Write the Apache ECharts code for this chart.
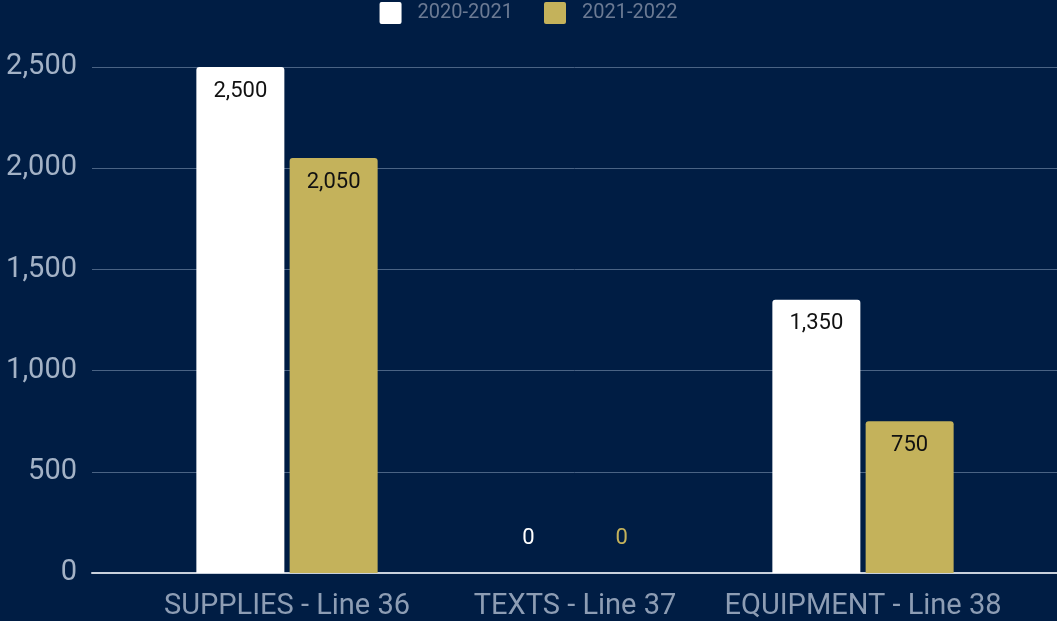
<!DOCTYPE html>
<html><head><meta charset="utf-8">
<script src="https://cdn.jsdelivr.net/npm/echarts@6/dist/echarts.min.js"></script>
<style>html,body{margin:0;padding:0;background:#001d44;}#c{width:1057px;height:621px;}</style>
</head><body><div id="c"></div>
<script>
const categories = ['SUPPLIES - Line 36', 'TEXTS - Line 37', 'EQUIPMENT - Line 38'];
const seriesNames = ['2020-2021', '2021-2022'];
const values2021 = [2500, 0, 1350];
const values2022 = [2050, 0, 750];
const yTicks = [0, 500, 1000, 1500, 2000, 2500];

const colors = ['#ffffff', '#c4b25b'];
const fmt = v => v.toLocaleString('en-US');

function mkData(vals, idx) {
  return vals.map(v => v === 0 ? {
    value: v,
    label: { position: 'top', distance: 24, color: colors[idx] }
  } : v);
}

const chart = echarts.init(document.getElementById('c'));
chart.setOption({
  backgroundColor: '#001d44',
  animation: false,
  textStyle: { fontFamily: 'Roboto' },
  legend: {
    top: 2, left: 'center', padding: 0,
    itemWidth: 22, itemHeight: 22, itemGap: 31,
    icon: 'path://M2,0 L20,0 Q22,0 22,2 L22,20 Q22,22 20,22 L2,22 Q0,22 0,20 L0,2 Q0,0 2,0 Z',
    textStyle: { color: '#6b7a93', fontSize: 20, fontFamily: 'Roboto', padding: [0, 0, 0, 11] },
    data: seriesNames
  },
  grid: [
    { left: 92, right: 0, top: 67, bottom: 48 },
    { left: 143, right: 50, top: 67, bottom: 48 }
  ],
  xAxis: [
    { type: 'category', gridIndex: 0, data: [''], axisLine: { show: true, lineStyle: { color: '#c9d1dc', width: 2 } },
      axisTick: { show: false }, axisLabel: { show: false } },
    { type: 'category', gridIndex: 1, data: categories,
      axisLine: { show: false }, axisTick: { show: false },
      axisLabel: { color: '#8d9db4', fontSize: 29, margin: 19, interval: 0, hideOverlap: false, fontFamily: 'Roboto' } }
  ],
  yAxis: [
    { type: 'value', gridIndex: 0, min: yTicks[0], max: yTicks[yTicks.length - 1], interval: 500,
      axisLine: { show: false }, axisTick: { show: false },
      splitLine: { lineStyle: { color: '#4a6384', width: 1 } },
      axisLabel: { color: '#a3b2c6', fontSize: 29, margin: 15, formatter: fmt, fontFamily: 'Roboto', padding: [5, 0, 0, 0] } },
    { type: 'value', gridIndex: 1, min: yTicks[0], max: yTicks[yTicks.length - 1], interval: 500,
      show: false }
  ],
  series: [
    { name: seriesNames[0], type: 'bar', xAxisIndex: 1, yAxisIndex: 1,
      data: mkData(values2021, 0), barWidth: 88, barGap: '6%',
      itemStyle: { color: colors[0], borderRadius: [3, 3, 0, 0] },
      label: { show: true, position: 'insideTop', distance: 13, color: '#111', fontSize: 22, formatter: p => fmt(p.value) } },
    { name: seriesNames[1], type: 'bar', xAxisIndex: 1, yAxisIndex: 1,
      data: mkData(values2022, 1), barWidth: 88, barGap: '6%',
      itemStyle: { color: colors[1], borderRadius: [3, 3, 0, 0] },
      label: { show: true, position: 'insideTop', distance: 13, color: '#111', fontSize: 22, formatter: p => fmt(p.value) } }
  ]
});
</script></body></html>
